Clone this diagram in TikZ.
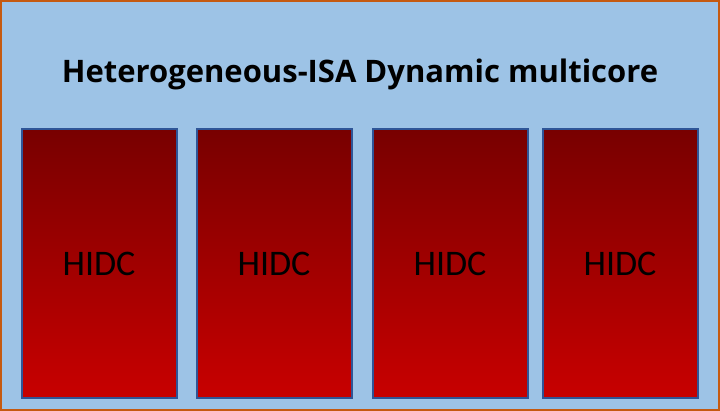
\documentclass[tikz,border=0pt]{standalone}
\usepackage{fontspec}
\setmainfont{Carlito}
\newfontfamily\titlefont{Open Sans}
\definecolor{bgblue}{HTML}{9DC3E6}
\definecolor{frameorange}{HTML}{C55A11}
\definecolor{boxedge}{HTML}{2F5597}
\definecolor{redtop}{HTML}{780000}
\definecolor{redbot}{HTML}{C80000}
\tikzset{
  hidc/.style={draw=boxedge, line width=2pt, top color=redtop, bottom color=redbot,
    minimum width=155pt, minimum height=268pt, inner sep=0pt,
    font=\fontsize{36}{39}\selectfont, text=black},
  titletext/.style={font=\titlefont\bfseries\fontsize{31}{34}\selectfont, text=black, inner sep=0pt}
}
\begin{document}
\begin{tikzpicture}[x=1pt,y=-1pt]
\useasboundingbox (0,0) rectangle (720,411);
\fill[bgblue] (0,0) rectangle (720,411);
\draw[frameorange, line width=2pt] (1,1) rectangle (719,410);
\node[titletext, anchor=base] (title) at (360,83) {Heterogeneous-ISA Dynamic multicore};
\node[hidc] (c1) at (99,263.5) {HIDC};
\node[hidc] (c2) at (274,263.5) {HIDC};
\node[hidc] (c3) at (450,263.5) {HIDC};
\node[hidc] (c4) at (620,263.5) {HIDC};
\end{tikzpicture}
\end{document}
